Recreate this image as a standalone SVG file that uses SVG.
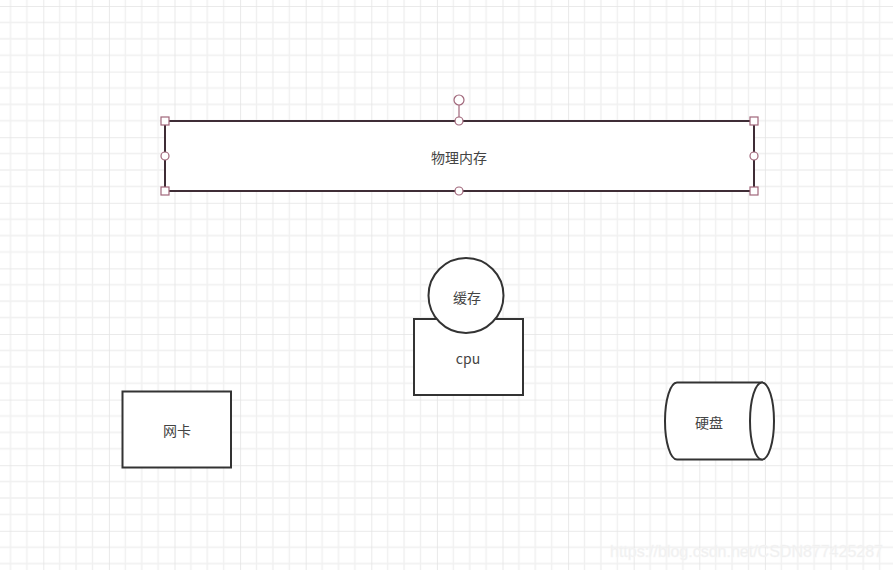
<svg xmlns="http://www.w3.org/2000/svg" width="893" height="570" viewBox="0 0 893 570">
<defs>
<pattern id="grid" patternUnits="userSpaceOnUse" x="43.3" y="6" width="65.6" height="65.6">
<path d="M16.4 0V65.6M32.8 0V65.6M49.2 0V65.6M0 16.4H65.6M0 32.8H65.6M0 49.2H65.6" stroke="#f0f0f0" stroke-width="1.4" fill="none"/>
<path d="M0 0V65.6M0 0H65.6" stroke="#e4e4e4" stroke-width="1.6" fill="none"/>
</pattern>
<style>
.shape{fill:#fff;stroke:#333;stroke-width:2}
.lbl{font-family:"Noto Sans CJK SC","Liberation Sans",sans-serif;font-size:14px;fill:#444;text-anchor:middle;dominant-baseline:central}
.h{fill:#fff;stroke:#a0667a;stroke-width:1.2}
</style>
</defs>
<rect width="893" height="570" fill="#fff"/>
<rect width="893" height="570" fill="url(#grid)"/>
<g id="memory">
<rect x="165" y="121" width="589" height="70" fill="#fff" stroke="#3f2d36" stroke-width="2"/>
<text class="lbl" x="459" y="157">物理内存</text>
<line x1="459" y1="105" x2="459" y2="117" stroke="#a0667a" stroke-width="1.2"/>
<circle class="h" cx="459" cy="100" r="5"/>
<rect class="h" x="161" y="117" width="8" height="8"/>
<rect class="h" x="750" y="117" width="8" height="8"/>
<rect class="h" x="161" y="187" width="8" height="8"/>
<rect class="h" x="750" y="187" width="8" height="8"/>
<circle class="h" cx="459" cy="121" r="4"/>
<circle class="h" cx="459" cy="191" r="4"/>
<circle class="h" cx="165" cy="156" r="4"/>
<circle class="h" cx="754" cy="156" r="4"/>
</g>
<g id="cpu">
<rect class="shape" x="414" y="319" width="109" height="76"/>
<text class="lbl" x="468" y="358">cpu</text>
</g>
<g id="cache">
<circle class="shape" cx="466" cy="295.5" r="37.5"/>
<text class="lbl" x="467" y="297">缓存</text>
</g>
<g id="nic">
<rect class="shape" x="122.5" y="391.5" width="108.5" height="76"/>
<text class="lbl" x="177" y="430">网卡</text>
</g>
<g id="disk">
<path class="shape" d="M677 382.5H762V459.5H677A12 38.5 0 0 1 677 382.5Z"/>
<ellipse class="shape" cx="762" cy="421" rx="12" ry="38.5"/>
<text class="lbl" x="709" y="422">硬盘</text>
</g>
<g id="connectors"></g>
<text x="610" y="557" font-family="Liberation Sans, sans-serif" font-size="16" fill="#eeeeee" stroke="#f6f6f6" stroke-width="0.5" textLength="273" lengthAdjust="spacingAndGlyphs">https://blog.csdn.net/CSDN877425287</text>
</svg>
